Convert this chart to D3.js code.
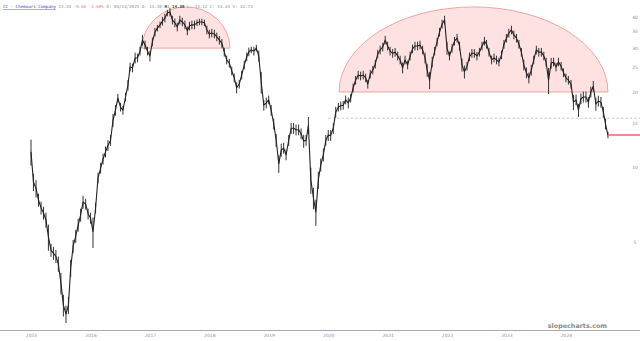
<!DOCTYPE html>
<html>
<head>
<meta charset="utf-8">
<script src="https://cdn.jsdelivr.net/npm/d3@7"></script>
<style>
  body { margin: 0; background: #fff; }
  svg { display: block; }
  .tick-label { font-family: "DejaVu Sans", sans-serif; font-size: 4.5px; fill: #8a8aa8; }
  .header { font-family: "DejaVu Sans Mono", monospace; font-size: 4.2px; }
</style>
</head>
<body>
<div id="chart"></div>
<script>
let width = 640,
    height = 341;

// semi-monthly closes (1st and 16th of each month), starting July 2015
let startYear = 2015, startMonth = 6;
let closes = [
  11.5, 8.7, 8.2, 7.37, 6.85, 6.54, 6.13, 5.24, 4.64, 4.51,
  4.38, 4.08, 3.42, 2.79, 2.57, 2.79, 3.93, 4.81, 5.28, 5.85,
  6.42, 7.23, 7.10, 6.48, 6.24, 5.5, 6.85, 9.05, 9.9, 10.77,
  11.5, 12.2, 12.8, 15.4, 16.9, 18.9, 17.4, 16.9, 19.1, 21.3,
  25.2, 25.0, 27.4, 27.4, 29.2, 32.3, 30.9, 29.2, 27.9, 31.8,
  34.8, 36.1, 37.2, 38.5, 39.6, 41.5, 41.9, 38.9, 37.9, 36.5,
  38.9, 38.2, 37.2, 35.2, 36.8, 37.2, 37.2, 37.9, 38.2, 38.2,
  37.9, 35.5, 34.2, 34.5, 34.2, 33.3, 32.3, 31.4, 28.9, 26.9,
  26.1, 24.3, 22.8, 20.8, 21.5, 23.4, 25.7, 27.7, 29.0, 29.5,
  29.2, 30.0, 27.9, 21.9, 17.7, 18.1, 18.6, 16.9, 14.9, 12.8,
  10.3, 11.7, 11.9, 11.2, 12.8, 14.3, 14.3, 14.1, 14.1, 13.6,
  12.7, 12.8, 14.7, 8.87, 7.51, 6.6, 8.87, 10.2, 11.2, 12.8,
  13.4, 13.4, 14.3, 16.6, 17.4, 17.6, 17.7, 18.6, 18.1, 18.9,
  20.8, 22.3, 23.4, 23.2, 23.4, 22.8, 21.5, 23.6, 24.5, 25.9,
  28.4, 29.5, 30.3, 32.3, 30.6, 29.2, 28.6, 28.9, 27.9, 26.9,
  25.0, 26.9, 25.7, 27.9, 29.8, 30.6, 30.6, 30.9, 29.5, 27.4,
  24.5, 22.3, 26.4, 29.2, 31.8, 34.8, 37.5, 38.9, 30.0, 27.9,
  30.0, 32.0, 32.9, 30.6, 25.7, 24.1, 25.4, 27.7, 28.6, 28.6,
  27.9, 28.9, 30.6, 32.0, 31.1, 28.9, 26.9, 27.4, 26.9, 26.4,
  28.2, 31.1, 32.9, 34.5, 35.5, 33.9, 32.9, 31.1, 28.9, 25.7,
  23.9, 22.8, 24.5, 26.9, 29.5, 28.9, 28.9, 27.9, 26.4, 22.3,
  26.1, 26.4, 25.2, 26.4, 25.4, 23.9, 22.8, 22.3, 21.5, 18.2,
  18.6, 16.9, 18.8, 19.1, 19.1, 18.2, 20.0, 21.1, 17.9, 18.4,
  18.2, 16.6, 14.9, 13.44
];

// half of each period's high-low range, in percent of the close
let spreadPct = [
  12, 8, 8, 6, 6, 6, 7, 12, 6, 6,
  6, 7, 10, 10, 8, 8, 8, 6, 6, 6,
  6, 6, 5, 5, 5, 14, 5, 5, 5, 5,
  5, 5, 5, 6, 5, 4, 4, 4, 4, 5,
  4, 4, 5, 4, 4, 5, 4, 4, 5, 4,
  4, 3, 3, 4, 4, 3, 4, 4, 4, 4,
  4, 4, 4, 4, 4, 4, 4, 3, 3, 3,
  3, 4, 4, 4, 4, 4, 4, 4, 4, 4,
  4, 4, 4, 5, 4, 4, 4, 4, 4, 3,
  4, 3, 5, 10, 5, 5, 4, 5, 5, 6,
  8, 6, 5, 5, 5, 5, 5, 5, 5, 5,
  6, 5, 8, 12, 10, 12, 8, 6, 6, 5,
  5, 5, 5, 5, 4, 4, 4, 4, 5, 4,
  4, 4, 4, 4, 4, 4, 4, 4, 4, 4,
  4, 4, 4, 4, 4, 4, 4, 4, 4, 4,
  5, 4, 4, 4, 4, 4, 4, 4, 4, 5,
  6, 8, 5, 4, 4, 4, 4, 4, 6, 4,
  4, 4, 4, 4, 6, 6, 4, 4, 4, 4,
  4, 4, 4, 4, 4, 4, 4, 4, 4, 4,
  4, 4, 4, 4, 4, 4, 4, 4, 4, 5,
  5, 5, 5, 4, 4, 4, 4, 4, 4, 12,
  5, 4, 4, 4, 4, 4, 4, 4, 4, 7,
  5, 6, 5, 5, 5, 5, 5, 5, 6, 5,
  5, 5, 5, 3
];

let yTicks = [5, 10, 15, 20, 25, 30, 35, 40];
let xTickYears = [2015, 2016, 2017, 2018, 2019, 2020, 2021, 2022, 2023, 2024];

// rounded tops drawn over the chart
let domeStarts = ["2017-05-13", "2020-09-06"];
let domeEnds = ["2018-11-05", "2025-03-16"];
let domeBase = [30, 20];
let domeTop = [43.9, 43.9];

let dashedLevel = 15.7, dashedFrom = "2020-07-01";

let headerParts = [
  {text: "CC - Chemours Company", color: "#3a3ad0", underline: true},
  {text: " 13.44 ", color: "#888"},
  {text: "-0.66 -4.68%", color: "#f08080"},
  {text: " D: 03/14/2025 O: 14.10 ", color: "#888"},
  {text: "H:", color: "#444", bold: true},
  {text: " 14.38", color: "#444", bold: true},
  {text: " L: 13.12 C: 13.44 V: 42.73", color: "#888"}
];

let parse = d3.timeParse("%Y-%m-%d");

let data = closes.map((c, i) => ({
  date: new Date(startYear, startMonth + Math.floor(i / 2), i % 2 ? 16 : 1),
  close: c,
  high: c * (1 + spreadPct[i] / 100),
  low: c * (1 - spreadPct[i] / 100)
}));

let svg = d3.select("#chart").append("svg")
    .attr("width", width)
    .attr("height", height);

let x = d3.scaleTime()
    .domain([new Date(2015, 6, 1), new Date(2025, 9, 1)])
    .range([31, 640.3]);

let y = d3.scaleLog()
    .domain([5, 40])
    .range([242, 17]);

// domes
let domes = domeStarts.map((s, i) => ({
  start: parse(s), end: parse(domeEnds[i]), base: domeBase[i], top: domeTop[i]
}));

svg.selectAll(".dome")
    .data(domes)
    .enter()
    .append("path")
    .attr("class", "dome")
    .attr("d", d => {
      let x0 = x(d.start), x1 = x(d.end), yb = y(d.base), yt = y(d.top);
      let rx = (x1 - x0) / 2, ry = yb - yt;
      return "M" + x0 + "," + yb + "A" + rx + "," + ry + " 0 0 1 " + x1 + "," + yb + "Z";
    })
    .attr("fill", "rgba(250,150,150,0.28)")
    .attr("stroke", "#e89090")
    .attr("stroke-width", 0.8);

// dashed support line
svg.append("line")
    .attr("x1", x(parse(dashedFrom)))
    .attr("x2", width)
    .attr("y1", y(dashedLevel))
    .attr("y2", y(dashedLevel))
    .attr("stroke", "#b0c0a8")
    .attr("stroke-width", 0.8)
    .attr("stroke-dasharray", "2.5,2");

// bottom axis
svg.append("line")
    .attr("x1", 0).attr("x2", width)
    .attr("y1", 330.5).attr("y2", 330.5)
    .attr("stroke", "#aaa")
    .attr("stroke-width", 1);

let xAxis = d3.axisBottom(x)
    .tickValues(xTickYears.map(yr => new Date(yr, 6, 1)))
    .tickFormat(d3.timeFormat("%Y"))
    .tickSize(0)
    .tickPadding(3);

svg.append("g")
    .attr("class", "x-axis")
    .attr("transform", "translate(0,331)")
    .call(xAxis)
    .call(g => g.select(".domain").remove())
    .selectAll("text")
    .attr("class", "tick-label")
    .attr("font-size", null)
    .attr("font-family", null);

// right price labels
svg.selectAll(".y-label")
    .data(yTicks)
    .enter()
    .append("text")
    .attr("class", "tick-label")
    .attr("x", 635)
    .attr("y", d => y(d))
    .attr("dy", "0.35em")
    .attr("text-anchor", "middle")
    .text(d => d);

// high-low bars
svg.selectAll(".bar")
    .data(data)
    .enter()
    .append("line")
    .attr("class", "bar")
    .attr("x1", d => x(d.date))
    .attr("x2", d => x(d.date))
    .attr("y1", d => y(d.high))
    .attr("y2", d => y(d.low))
    .attr("stroke", "#333")
    .attr("stroke-width", 1);

// price line
let line = d3.line()
    .x(d => x(d.date))
    .y(d => y(d.close));

svg.append("path")
    .datum(data)
    .attr("fill", "none")
    .attr("stroke", "#222")
    .attr("stroke-width", 1.1)
    .attr("stroke-linejoin", "round")
    .attr("d", line);

// last price marker
let last = data[data.length - 1];
svg.append("line")
    .attr("x1", x(last.date))
    .attr("x2", width)
    .attr("y1", y(last.close))
    .attr("y2", y(last.close))
    .attr("stroke", "#f06262")
    .attr("stroke-width", 1.6);

// header
let header = svg.append("text")
    .attr("class", "header")
    .attr("x", 3)
    .attr("y", 8)
    .style("white-space", "pre");

headerParts.forEach(p => {
  header.append("tspan")
      .attr("fill", p.color)
      .attr("font-weight", p.bold ? "bold" : null)
      .attr("text-decoration", p.underline ? "underline" : null)
      .text(p.text);
});

// watermark
svg.append("text")
    .attr("x", 607)
    .attr("y", 328)
    .attr("text-anchor", "end")
    .attr("font-family", "DejaVu Sans, sans-serif")
    .attr("font-weight", "bold")
    .attr("font-size", 6.4)
    .attr("fill", "#888")
    .text("slopecharts.com");
</script>
</body>
</html>
